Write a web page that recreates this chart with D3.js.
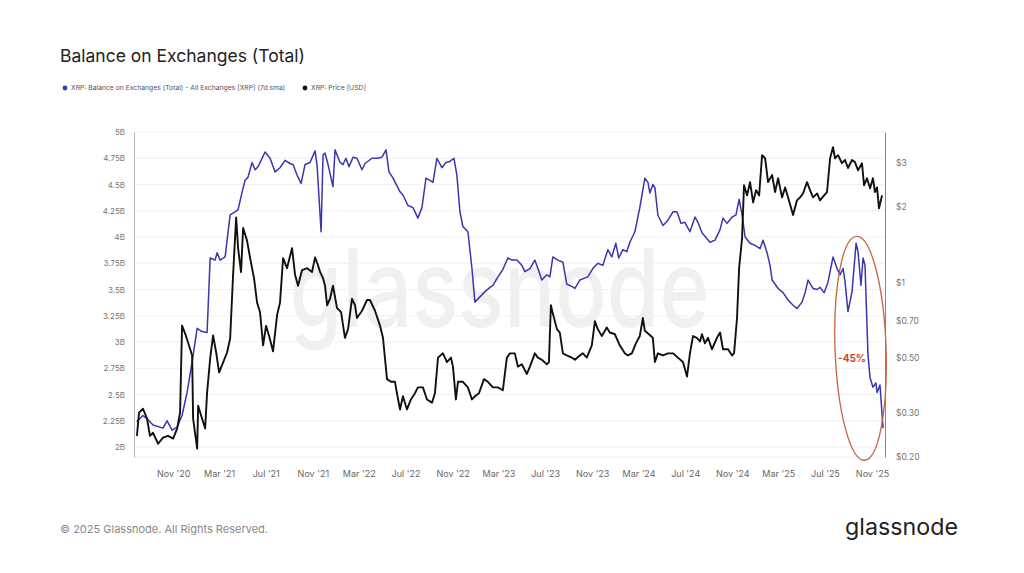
<!DOCTYPE html>
<html>
<head>
<meta charset="utf-8">
<script src="https://cdn.jsdelivr.net/npm/d3@7"></script>
<style>
  body { margin: 0; background: #fff; }
  svg { display: block; font-family: Inter, "Noto Sans", sans-serif; }
</style>
</head>
<body>
<svg id="chart" width="1024" height="573"></svg>
<script>
// dates are decimal years, balance in billions of XRP, price in USD
const balanceSeries = [
  [2020.573,2.24],[2020.618,2.30],[2020.654,2.26],[2020.690,2.21],[2020.761,2.18],[2020.790,2.25],
  [2020.826,2.16],[2020.862,2.19],[2020.897,2.30],[2020.933,2.52],[2020.969,2.81],[2021.005,3.13],
  [2021.040,3.10],[2021.076,3.09],[2021.098,3.80],[2021.133,3.78],[2021.148,3.85],[2021.169,3.78],
  [2021.205,3.81],[2021.241,4.21],[2021.276,4.24],[2021.298,4.26],[2021.327,4.43],[2021.348,4.54],
  [2021.369,4.57],[2021.398,4.71],[2021.420,4.64],[2021.441,4.67],[2021.491,4.81],[2021.527,4.75],
  [2021.563,4.62],[2021.598,4.66],[2021.634,4.73],[2021.670,4.70],[2021.691,4.69],[2021.720,4.59],
  [2021.749,4.51],[2021.777,4.69],[2021.813,4.71],[2021.849,4.82],[2021.863,4.69],[2021.892,4.05],
  [2021.906,4.78],[2021.920,4.80],[2021.942,4.69],[2021.977,4.48],[2021.992,4.83],[2022.028,4.71],
  [2022.049,4.69],[2022.070,4.75],[2022.092,4.67],[2022.121,4.76],[2022.149,4.75],[2022.185,4.64],
  [2022.206,4.70],[2022.256,4.75],[2022.292,4.75],[2022.328,4.76],[2022.357,4.83],[2022.378,4.62],
  [2022.407,4.56],[2022.457,4.43],[2022.478,4.40],[2022.514,4.30],[2022.550,4.28],[2022.585,4.18],
  [2022.614,4.28],[2022.643,4.56],[2022.671,4.54],[2022.693,4.52],[2022.721,4.75],[2022.757,4.66],
  [2022.786,4.71],[2022.814,4.72],[2022.843,4.75],[2022.864,4.59],[2022.886,4.24],[2022.907,4.10],
  [2022.943,4.05],[2022.972,3.70],[2022.993,3.38],[2023.029,3.43],[2023.065,3.48],[2023.101,3.52],
  [2023.122,3.54],[2023.158,3.62],[2023.193,3.69],[2023.229,3.80],[2023.258,3.78],[2023.294,3.78],
  [2023.329,3.73],[2023.351,3.67],[2023.387,3.70],[2023.422,3.78],[2023.444,3.70],[2023.472,3.59],
  [2023.508,3.64],[2023.530,3.62],[2023.551,3.81],[2023.587,3.78],[2023.623,3.76],[2023.651,3.55],
  [2023.687,3.53],[2023.709,3.51],[2023.744,3.59],[2023.801,3.62],[2023.837,3.70],[2023.873,3.75],
  [2023.909,3.73],[2023.945,3.88],[2023.973,3.81],[2024.002,3.94],[2024.023,3.80],[2024.052,3.88],
  [2024.080,3.86],[2024.102,3.95],[2024.138,4.05],[2024.173,4.28],[2024.209,4.56],[2024.231,4.52],
  [2024.245,4.42],[2024.266,4.50],[2024.281,4.47],[2024.302,4.21],[2024.338,4.11],[2024.374,4.16],
  [2024.410,4.24],[2024.438,4.24],[2024.467,4.13],[2024.495,4.14],[2024.531,4.05],[2024.567,4.19],
  [2024.588,4.14],[2024.617,4.04],[2024.674,3.95],[2024.710,3.97],[2024.746,4.07],[2024.767,4.18],
  [2024.796,4.13],[2024.832,4.19],[2024.860,4.21],[2024.882,4.36],[2024.903,4.21],[2024.925,4.00],
  [2024.960,3.94],[2024.996,3.92],[2025.032,3.89],[2025.053,3.97],[2025.082,3.85],[2025.103,3.73],
  [2025.118,3.59],[2025.161,3.51],[2025.196,3.47],[2025.232,3.40],[2025.268,3.35],[2025.296,3.32],
  [2025.332,3.38],[2025.354,3.47],[2025.375,3.59],[2025.411,3.51],[2025.440,3.50],[2025.461,3.52],
  [2025.490,3.47],[2025.518,3.57],[2025.554,3.81],[2025.583,3.70],[2025.604,3.64],[2025.626,3.70],
  [2025.640,3.57],[2025.661,3.29],[2025.690,3.48],[2025.719,3.94],[2025.733,3.86],[2025.754,3.54],
  [2025.769,3.80],[2025.783,3.73],[2025.804,2.88],[2025.819,2.66],[2025.840,2.57],[2025.861,2.61],
  [2025.869,2.52],[2025.890,2.59],[2025.912,2.18]
];

const priceSeries = [
  [2020.575,0.243],[2020.590,0.301],[2020.618,0.312],[2020.647,0.285],[2020.668,0.243],[2020.690,0.250],
  [2020.726,0.226],[2020.761,0.239],[2020.797,0.243],[2020.833,0.237],[2020.862,0.260],[2020.883,0.301],
  [2020.897,0.672],[2020.919,0.624],[2020.940,0.575],[2020.969,0.510],[2020.976,0.285],[2021.005,0.216],
  [2021.012,0.321],[2021.040,0.285],[2021.062,0.260],[2021.076,0.362],[2021.098,0.496],[2021.119,0.613],
  [2021.141,0.524],[2021.162,0.436],[2021.191,0.478],[2021.219,0.524],[2021.241,0.596],[2021.262,1.067],
  [2021.284,1.82],[2021.298,1.37],[2021.319,1.10],[2021.334,1.65],[2021.362,1.47],[2021.384,1.25],
  [2021.412,1.04],[2021.434,0.83],[2021.455,0.76],[2021.477,0.56],[2021.498,0.67],[2021.520,0.61],
  [2021.548,0.53],[2021.577,0.74],[2021.598,0.83],[2021.620,1.25],[2021.648,1.14],[2021.684,1.37],
  [2021.706,1.07],[2021.727,0.97],[2021.756,1.12],[2021.792,1.14],[2021.827,1.10],[2021.849,1.26],
  [2021.870,1.17],[2021.885,1.10],[2021.906,1.04],[2021.920,0.97],[2021.935,0.81],[2021.956,0.86],
  [2021.977,0.97],[2022.006,0.79],[2022.035,0.76],[2022.063,0.60],[2022.085,0.65],[2022.113,0.86],
  [2022.135,0.81],[2022.149,0.72],[2022.185,0.77],[2022.221,0.85],[2022.242,0.85],[2022.278,0.77],
  [2022.314,0.67],[2022.335,0.60],[2022.364,0.41],[2022.392,0.40],[2022.421,0.40],[2022.435,0.36],
  [2022.457,0.31],[2022.478,0.35],[2022.507,0.31],[2022.535,0.34],[2022.564,0.36],[2022.585,0.38],
  [2022.621,0.38],[2022.650,0.34],[2022.686,0.33],[2022.707,0.36],[2022.729,0.50],[2022.764,0.52],
  [2022.793,0.48],[2022.822,0.50],[2022.836,0.46],[2022.857,0.34],[2022.872,0.40],[2022.907,0.40],
  [2022.943,0.38],[2022.972,0.34],[2022.993,0.35],[2023.022,0.36],[2023.058,0.41],[2023.086,0.40],
  [2023.122,0.38],[2023.158,0.38],[2023.193,0.37],[2023.222,0.50],[2023.244,0.52],[2023.279,0.52],
  [2023.301,0.46],[2023.329,0.47],[2023.365,0.43],[2023.387,0.46],[2023.422,0.52],[2023.444,0.50],
  [2023.472,0.49],[2023.508,0.47],[2023.523,0.48],[2023.537,0.81],[2023.551,0.75],[2023.580,0.65],
  [2023.601,0.63],[2023.623,0.52],[2023.651,0.51],[2023.687,0.50],[2023.709,0.49],[2023.744,0.51],
  [2023.766,0.52],[2023.794,0.50],[2023.830,0.56],[2023.852,0.70],[2023.873,0.65],[2023.902,0.61],
  [2023.937,0.66],[2023.959,0.63],[2023.995,0.62],[2024.030,0.56],[2024.066,0.52],[2024.088,0.51],
  [2024.116,0.52],[2024.145,0.57],[2024.173,0.61],[2024.195,0.72],[2024.209,0.64],[2024.238,0.62],
  [2024.266,0.60],[2024.281,0.48],[2024.302,0.52],[2024.338,0.51],[2024.374,0.52],[2024.410,0.52],
  [2024.445,0.50],[2024.481,0.48],[2024.510,0.42],[2024.531,0.52],[2024.553,0.61],[2024.581,0.60],
  [2024.603,0.58],[2024.617,0.62],[2024.638,0.57],[2024.660,0.60],[2024.688,0.54],[2024.724,0.60],
  [2024.746,0.63],[2024.767,0.54],[2024.803,0.54],[2024.832,0.51],[2024.846,0.52],[2024.867,0.72],
  [2024.882,1.14],[2024.903,1.50],[2024.917,2.45],[2024.939,2.23],[2024.960,2.52],[2024.982,2.09],
  [2025.003,2.34],[2025.025,2.23],[2025.046,3.23],[2025.068,3.14],[2025.089,2.52],[2025.118,2.69],
  [2025.139,2.30],[2025.161,2.61],[2025.189,2.19],[2025.211,2.40],[2025.232,2.19],[2025.268,1.86],
  [2025.296,2.13],[2025.318,2.19],[2025.339,2.27],[2025.368,2.52],[2025.389,2.34],[2025.411,2.19],
  [2025.440,2.27],[2025.461,2.13],[2025.490,2.23],[2025.511,2.30],[2025.533,3.14],[2025.554,3.48],
  [2025.568,3.14],[2025.590,3.23],[2025.618,3.00],[2025.640,3.09],[2025.661,2.87],[2025.690,3.09],
  [2025.711,3.03],[2025.733,2.81],[2025.761,3.00],[2025.776,2.45],[2025.797,2.61],[2025.819,2.38],
  [2025.840,2.61],[2025.854,2.30],[2025.869,2.40],[2025.883,1.98],[2025.905,2.23]
];

const balanceTicks = [2, 2.25, 2.5, 2.75, 3, 3.25, 3.5, 3.75, 4, 4.25, 4.5, 4.75, 5];
const priceTicks = [0.2, 0.3, 0.5, 0.7, 1, 2, 3];
const priceTickLabels = ["$0.20", "$0.30", "$0.50", "$0.70", "$1", "$2", "$3"];
const monthTicks = ["2020-11", "2021-03", "2021-07", "2021-11", "2022-03", "2022-07", "2022-11",
  "2023-03", "2023-07", "2023-11", "2024-03", "2024-07", "2024-11", "2025-03", "2025-07", "2025-11"];

function decYear(y) {
  const yr = Math.floor(y);
  const a = new Date(yr, 0, 1), b = new Date(yr + 1, 0, 1);
  return new Date(+a + (y - yr) * (b - a));
}

const svg = d3.select("#chart");
const margin = {top: 132, left: 134},
      width = 751,
      height = 325;

svg.append("rect").attr("width", 1024).attr("height", 573).attr("fill", "#fff");

// title + legend
svg.append("text").attr("x", 60).attr("y", 62)
  .attr("font-size", 17.5).attr("fill", "#222").text("Balance on Exchanges (Total)");

const legend = [
  {x: 65, color: "#3a35b0", label: "XRP: Balance on Exchanges (Total) - All Exchanges [XRP] (7d sma)"},
  {x: 305, color: "#111", label: "XRP: Price [USD]"}
];
const lg = svg.append("g").selectAll("g").data(legend).enter().append("g")
  .attr("transform", d => `translate(${d.x},88)`);
lg.append("circle").attr("r", 2.4).attr("fill", d => d.color);
lg.append("text").attr("x", 6).attr("dy", "0.35em").attr("font-size", 6.8)
  .attr("fill", "#555").text(d => d.label);

const g = svg.append("g").attr("transform", `translate(${margin.left},${margin.top})`);

const x = d3.scaleTime().domain([decYear(2020.554), decYear(2025.926)]).range([0, width]);
const yL = d3.scaleLinear().domain([1.905, 5]).range([height, 0]);
const yR = d3.scaleLog().domain([0.2, 4]).range([height, 0]);

// watermark
g.append("text").attr("x", width / 2 - 10).attr("y", 195)
  .attr("text-anchor", "middle").attr("font-size", 108).attr("font-weight", 500)
  .attr("textLength", 420).attr("lengthAdjust", "spacingAndGlyphs")
  .attr("fill", "#000").attr("fill-opacity", 0.06).text("glassnode");

// grid
g.append("g").selectAll("line").data(balanceTicks).enter().append("line")
  .attr("x1", 0).attr("x2", width)
  .attr("y1", d => yL(d)).attr("y2", d => yL(d))
  .attr("stroke", "#f0f0f0");
g.append("line").attr("x1", 0).attr("x2", width).attr("y1", height).attr("y2", height)
  .attr("stroke", "#eeeeee");

// axes
const axL = g.append("g")
  .call(d3.axisLeft(yL).tickValues(balanceTicks).tickSize(0).tickPadding(9)
    .tickFormat(d => d + "B"));
axL.select(".domain").attr("stroke", "#b5b5b5");
axL.selectAll("text").attr("font-size", 8).attr("fill", "#777").attr("font-family", "Inter, sans-serif");

const axR = g.append("g").attr("transform", `translate(${width},0)`)
  .call(d3.axisRight(yR).tickValues(priceTicks).tickSize(0).tickPadding(11)
    .tickFormat((d, i) => priceTickLabels[i]));
axR.select(".domain").attr("stroke", "#888");
axR.selectAll("text").attr("font-size", 8.5).attr("fill", "#777").attr("font-family", "Inter, sans-serif");

const axB = g.append("g").attr("transform", `translate(0,${height})`)
  .call(d3.axisBottom(x).tickValues(monthTicks.map(d => d3.timeParse("%Y-%m")(d)))
    .tickSize(0).tickPadding(14).tickFormat(d3.timeFormat("%b '%y")));
axB.select(".domain").remove();
axB.selectAll("text").attr("font-size", 9).attr("fill", "#666").attr("font-family", "Inter, sans-serif");

// series
g.append("path").datum(balanceSeries)
  .attr("fill", "none").attr("stroke", "#3a35b0").attr("stroke-width", 1.5)
  .attr("stroke-linejoin", "round")
  .attr("d", d3.line().x(d => x(decYear(d[0]))).y(d => yL(d[1])));

g.append("path").datum(priceSeries)
  .attr("fill", "none").attr("stroke", "#111").attr("stroke-width", 1.9)
  .attr("stroke-linejoin", "round")
  .attr("d", d3.line().x(d => x(decYear(d[0]))).y(d => yR(d[1])));

// annotation
g.append("ellipse")
  .attr("cx", x(decYear(2025.751))).attr("cy", yL(2.94))
  .attr("rx", 25.5).attr("ry", 112)
  .attr("transform", `rotate(-2,${x(decYear(2025.751))},${yL(2.94)})`)
  .attr("fill", "none").attr("stroke", "#c8623e").attr("stroke-width", 1.3);
g.append("text").attr("x", x(decYear(2025.690))).attr("y", yL(2.84)).attr("dy", "0.35em")
  .attr("text-anchor", "middle").attr("font-size", 10).attr("font-weight", 700)
  .attr("fill", "#c8462c").text("-45%");

// footer
svg.append("text").attr("x", 60).attr("y", 533).attr("font-size", 11).attr("fill", "#888")
  .text("© 2025 Glassnode. All Rights Reserved.");
svg.append("text").attr("x", 845).attr("y", 535)
  .attr("font-size", 23).attr("font-weight", 400).attr("fill", "#222")
  .attr("textLength", 113).attr("lengthAdjust", "spacingAndGlyphs").text("glassnode");
</script>
</body>
</html>
